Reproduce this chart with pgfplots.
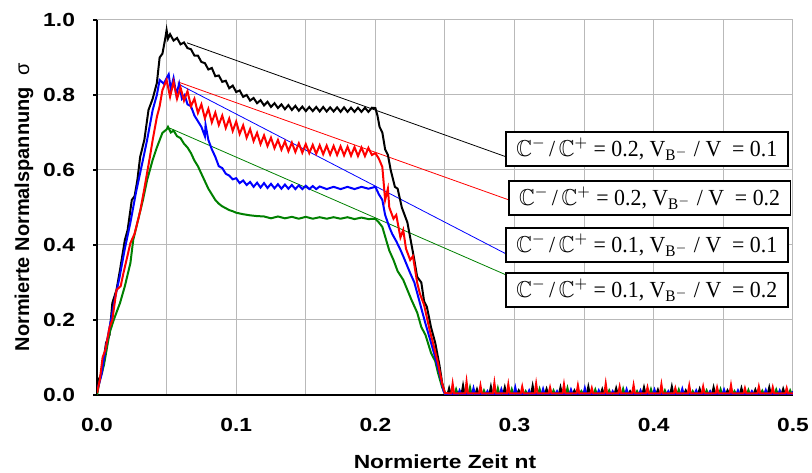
\documentclass[border=0pt]{standalone}
\usepackage{pgfplots}
\pgfplotsset{compat=1.18}
\usepackage{amssymb}
\usepackage{fontspec}
\setmainfont{Liberation Serif}
\setsansfont{Liberation Sans}
\definecolor{dgreen}{RGB}{0,128,0}
\definecolor{gridgray}{RGB}{185,185,185}
\newcommand{\lbl}[2]{$\mathbb{C}^{-}$\,/\,$\mathbb{C}^{+}$ = #1, V$_{\mathrm{B}^{-}}$ / V \ = #2}
\begin{document}
\begin{tikzpicture}
\begin{axis}[
  scale only axis, width=348pt, height=187.5pt,
  xmin=0, xmax=0.5, ymin=0, ymax=1,
  xtick={0,0.1,0.2,0.3,0.4,0.5},
  minor xtick={0.05,0.15,0.25,0.35,0.45},
  ytick={0,0.2,0.4,0.6,0.8,1.0},
  grid=both,
  major grid style={gridgray, line width=0.5pt},
  minor grid style={gridgray, line width=0.5pt},
  axis lines*=left,
  axis line style={black, line width=0.8pt},
  tick align=outside, major tick length=2pt,
  xtick style={draw=none}, minor tick length=0pt,
  ytick style={black, line width=0.6pt},
  /pgf/number format/assume math mode=true,
  /pgf/number format/fixed, /pgf/number format/fixed zerofill, /pgf/number format/precision=1,
  tick label style={font=\sffamily\bfseries\fontsize{9.5}{11}\selectfont, xscale=1.2},
  xticklabel style={yshift=-6pt},
  yticklabel style={xshift=-4pt},
  xlabel={Normierte Zeit nt},
  ylabel={Normierte Normalspannung~~{\mdseries σ}},
  xlabel style={font=\sffamily\bfseries\fontsize{9.5}{11}\selectfont, xscale=1.2, at={(axis description cs:0.5,-0.179)}, anchor=center},
  ylabel style={font=\sffamily\bfseries\fontsize{10}{12}\selectfont, at={(axis description cs:-0.105,0.5)}, anchor=center},
  clip=true,
]
\coordinate (bl) at (axis cs:-0.0697,-0.208);
\coordinate (tr) at (axis cs:0.5137,1.0533);
% leader lines
\addplot[black, line width=0.4pt] coordinates {(0.0647,0.939)(0.294,0.635)};
\addplot[red, line width=0.4pt] coordinates {(0.058,0.835)(0.296,0.52)};
\addplot[blue, line width=0.4pt] coordinates {(0.058,0.83)(0.294,0.376)};
\addplot[dgreen, line width=0.4pt] coordinates {(0.052,0.712)(0.294,0.32)};
% black
\addplot[black, line width=1pt] coordinates {
(0,0)(0.001,0.04)(0.0036,0.059)(0.005,0.10)(0.0065,0.139)(0.009,0.16)(0.011,0.245)(0.014,0.28)(0.0165,0.333)(0.02,0.413)(0.022,0.44)(0.025,0.52)(0.027,0.53)(0.029,0.573)(0.031,0.635)(0.034,0.68)(0.037,0.76)(0.040,0.79)(0.043,0.832)(0.045,0.90)(0.047,0.91)(0.049,0.95)(0.05,0.973)
(0.051,0.950)(0.0525,0.962)(0.055,0.945)(0.0575,0.952)(0.06,0.935)(0.0625,0.940)(0.065,0.925)(0.0675,0.922)(0.07,0.905)(0.0725,0.905)(0.075,0.888)(0.0775,0.885)(0.08,0.868)(0.0825,0.872)(0.085,0.850)(0.0875,0.852)(0.09,0.835)(0.0925,0.838)(0.095,0.818)(0.0975,0.825)(0.1,0.808)(0.1025,0.812)(0.105,0.795)(0.1075,0.800)(0.11,0.785)(0.1125,0.792)(0.115,0.778)(0.1175,0.786)(0.12,0.772)(0.1225,0.782)(0.125,0.768)(0.1275,0.778)(0.13,0.765)(0.1325,0.775)(0.135,0.762)(0.1375,0.773)(0.14,0.760)(0.1425,0.771)(0.145,0.758)(0.1475,0.769)(0.15,0.757)(0.1525,0.768)(0.155,0.757)(0.1575,0.768)(0.16,0.756)(0.1625,0.768)(0.165,0.756)(0.1675,0.767)(0.17,0.756)(0.1725,0.767)(0.175,0.755)(0.1775,0.767)(0.18,0.755)(0.1825,0.766)(0.185,0.755)(0.1875,0.766)(0.19,0.755)(0.1925,0.766)(0.195,0.755)(0.1975,0.766)(0.2,0.765)
(0.2015,0.745)(0.203,0.715)(0.205,0.70)(0.207,0.655)(0.209,0.64)(0.211,0.60)(0.214,0.555)(0.216,0.55)(0.219,0.50)(0.223,0.46)(0.225,0.42)(0.228,0.36)(0.23,0.315)(0.233,0.30)(0.235,0.25)(0.237,0.235)(0.24,0.18)(0.243,0.139)(0.246,0.08)(0.248,0.032)(0.25,0.004)
(0.252,0.004)(0.253,0.018)(0.254,0.004)(0.262,0.004)(0.263,0.025)(0.264,0.004)(0.272,0.004)(0.273,0.015)(0.274,0.004)(0.282,0.004)(0.283,0.022)(0.284,0.004)(0.292,0.004)(0.293,0.020)(0.294,0.004)
(0.302,0.004)(0.303,0.012)(0.304,0.004)(0.312,0.004)(0.313,0.024)(0.314,0.004)(0.322,0.004)(0.323,0.016)(0.324,0.004)(0.332,0.004)(0.333,0.020)(0.334,0.004)(0.342,0.004)(0.343,0.012)(0.344,0.004)
(0.352,0.004)(0.353,0.022)(0.354,0.004)(0.362,0.004)(0.363,0.015)(0.364,0.004)(0.372,0.004)(0.373,0.018)(0.374,0.004)(0.382,0.004)(0.383,0.010)(0.384,0.004)(0.392,0.004)(0.393,0.020)(0.394,0.004)
(0.402,0.004)(0.403,0.014)(0.404,0.004)(0.412,0.004)(0.413,0.022)(0.414,0.004)(0.422,0.004)(0.423,0.012)(0.424,0.004)(0.432,0.004)(0.433,0.016)(0.434,0.004)(0.442,0.004)(0.443,0.020)(0.444,0.004)
(0.452,0.004)(0.453,0.012)(0.454,0.004)(0.462,0.004)(0.463,0.018)(0.464,0.004)(0.472,0.004)(0.473,0.014)(0.474,0.004)(0.482,0.004)(0.483,0.020)(0.484,0.004)(0.492,0.004)(0.493,0.016)(0.494,0.004)(0.5,0.004)
};
% green
\addplot[dgreen, line width=1pt] coordinates {
(0,0)(0.002,0.04)(0.005,0.08)(0.009,0.165)(0.012,0.2)(0.0165,0.245)(0.02,0.29)(0.024,0.352)(0.026,0.413)(0.029,0.459)(0.033,0.52)(0.036,0.573)(0.04,0.627)(0.043,0.66)(0.047,0.699)(0.05,0.708)(0.051,0.715)(0.053,0.70)(0.055,0.705)(0.0575,0.69)(0.06,0.685)(0.0625,0.67)(0.065,0.66)(0.0675,0.645)(0.07,0.625)(0.0725,0.61)(0.075,0.59)(0.0775,0.57)(0.08,0.55)(0.0825,0.535)(0.085,0.52)(0.0875,0.51)(0.09,0.503)(0.0925,0.498)(0.095,0.493)(0.0975,0.49)(0.1,0.486)(0.105,0.482)(0.11,0.479)(0.115,0.477)(0.12,0.476)(0.125,0.471)(0.13,0.476)(0.135,0.471)(0.14,0.475)(0.145,0.47)(0.15,0.475)(0.155,0.47)(0.16,0.474)(0.165,0.47)(0.17,0.474)(0.175,0.47)(0.18,0.474)(0.185,0.469)(0.19,0.473)(0.195,0.469)(0.2,0.47)
(0.2025,0.46)(0.205,0.448)(0.208,0.41)(0.21,0.385)(0.213,0.36)(0.216,0.33)(0.22,0.307)(0.223,0.28)(0.226,0.253)(0.23,0.22)(0.233,0.181)(0.236,0.16)(0.24,0.112)(0.243,0.09)(0.245,0.059)(0.248,0.02)(0.25,0.003)
(0.257,0.003)(0.258,0.015)(0.259,0.003)(0.267,0.003)(0.268,0.020)(0.269,0.003)(0.277,0.003)(0.278,0.012)(0.279,0.003)(0.287,0.003)(0.288,0.018)(0.289,0.003)(0.297,0.003)(0.298,0.015)(0.299,0.003)
(0.307,0.003)(0.308,0.010)(0.309,0.003)(0.317,0.003)(0.318,0.016)(0.319,0.003)(0.327,0.003)(0.328,0.012)(0.329,0.003)(0.337,0.003)(0.338,0.018)(0.339,0.003)(0.347,0.003)(0.348,0.010)(0.349,0.003)
(0.357,0.003)(0.358,0.014)(0.359,0.003)(0.367,0.003)(0.368,0.012)(0.369,0.003)(0.377,0.003)(0.378,0.016)(0.379,0.003)(0.387,0.003)(0.388,0.010)(0.389,0.003)(0.397,0.003)(0.398,0.015)(0.399,0.003)
(0.407,0.003)(0.408,0.012)(0.409,0.003)(0.417,0.003)(0.418,0.014)(0.419,0.003)(0.427,0.003)(0.428,0.010)(0.429,0.003)(0.437,0.003)(0.438,0.012)(0.439,0.003)(0.447,0.003)(0.448,0.015)(0.449,0.003)
(0.457,0.003)(0.458,0.010)(0.459,0.003)(0.467,0.003)(0.468,0.013)(0.469,0.003)(0.477,0.003)(0.478,0.011)(0.479,0.003)(0.487,0.003)(0.488,0.014)(0.489,0.003)(0.497,0.003)(0.498,0.012)(0.499,0.003)(0.5,0.003)
};
% blue
\addplot[blue, line width=1pt] coordinates {
(0,0.01)(0.003,0.05)(0.006,0.12)(0.01,0.2)(0.013,0.26)(0.016,0.31)(0.02,0.39)(0.024,0.46)(0.028,0.54)(0.033,0.627)(0.036,0.68)(0.04,0.76)(0.043,0.80)(0.045,0.84)(0.048,0.83)(0.05,0.845)(0.0515,0.855)(0.053,0.815)(0.055,0.845)(0.057,0.80)(0.059,0.83)(0.061,0.79)(0.063,0.80)(0.065,0.775)(0.0675,0.77)(0.07,0.745)(0.0725,0.73)(0.075,0.715)(0.0775,0.69)(0.078,0.72)(0.08,0.68)(0.0825,0.655)(0.085,0.635)(0.0875,0.61)(0.09,0.605)(0.0925,0.59)(0.095,0.585)(0.0975,0.575)(0.1,0.578)(0.1025,0.565)(0.105,0.572)(0.1075,0.56)(0.11,0.568)(0.1125,0.555)(0.115,0.566)(0.1175,0.553)(0.12,0.565)(0.1225,0.552)(0.125,0.563)(0.1275,0.551)(0.13,0.562)(0.1325,0.55)(0.135,0.561)(0.1375,0.55)(0.14,0.56)(0.1425,0.549)(0.145,0.559)(0.1475,0.549)(0.15,0.558)(0.1525,0.549)(0.155,0.557)(0.1575,0.549)(0.16,0.556)(0.165,0.549)(0.17,0.555)(0.175,0.549)(0.18,0.555)(0.185,0.549)(0.19,0.555)(0.195,0.55)(0.2,0.555)
(0.2025,0.535)(0.205,0.52)(0.207,0.48)(0.21,0.448)(0.212,0.43)(0.215,0.41)(0.218,0.387)(0.22,0.37)(0.225,0.325)(0.228,0.30)(0.232,0.245)(0.236,0.19)(0.24,0.139)(0.243,0.10)(0.246,0.059)(0.249,0.01)(0.25,0.003)
(0.2595,0.003)(0.2605,0.012)(0.2615,0.003)(0.2695,0.003)(0.2705,0.018)(0.2715,0.003)(0.2795,0.003)(0.2805,0.010)(0.2815,0.003)(0.2895,0.003)(0.2905,0.015)(0.2915,0.003)(0.2995,0.003)(0.3005,0.020)(0.3015,0.003)
(0.3095,0.003)(0.3105,0.012)(0.3115,0.003)(0.3195,0.003)(0.3205,0.016)(0.3215,0.003)(0.3295,0.003)(0.3305,0.010)(0.3315,0.003)(0.3395,0.003)(0.3405,0.014)(0.3415,0.003)(0.3495,0.003)(0.3505,0.018)(0.3515,0.003)
(0.3595,0.003)(0.3605,0.012)(0.3615,0.003)(0.3695,0.003)(0.3705,0.010)(0.3715,0.003)(0.3795,0.003)(0.3805,0.015)(0.3815,0.003)(0.3895,0.003)(0.3905,0.012)(0.3915,0.003)(0.3995,0.003)(0.4005,0.014)(0.4015,0.003)
(0.4095,0.003)(0.4105,0.010)(0.4115,0.003)(0.4195,0.003)(0.4205,0.016)(0.4215,0.003)(0.4295,0.003)(0.4305,0.012)(0.4315,0.003)(0.4395,0.003)(0.4405,0.010)(0.4415,0.003)(0.4495,0.003)(0.4505,0.014)(0.4515,0.003)
(0.4595,0.003)(0.4605,0.012)(0.4615,0.003)(0.4695,0.003)(0.4705,0.010)(0.4715,0.003)(0.4795,0.003)(0.4805,0.013)(0.4815,0.003)(0.4895,0.003)(0.4905,0.012)(0.4915,0.003)(0.4995,0.003)(0.5,0.01)
};
% red
\addplot[red, line width=1pt] coordinates {
(0,0.005)(0.002,0.04)(0.004,0.1)(0.006,0.12)(0.009,0.18)(0.011,0.2)(0.014,0.28)(0.017,0.29)(0.019,0.325)(0.024,0.405)(0.027,0.43)(0.031,0.49)(0.034,0.55)(0.038,0.635)(0.04,0.68)(0.043,0.741)(0.045,0.77)(0.047,0.813)(0.05,0.84)
(0.0525,0.795)(0.055,0.835)(0.0575,0.79)(0.06,0.82)(0.0625,0.785)(0.065,0.81)(0.0675,0.77)(0.07,0.79)(0.0725,0.752)(0.075,0.775)(0.0775,0.738)(0.08,0.763)(0.0825,0.727)(0.085,0.753)(0.0875,0.72)(0.09,0.745)(0.0925,0.712)(0.095,0.737)(0.0975,0.704)(0.1,0.729)(0.1025,0.696)(0.105,0.719)(0.1075,0.686)(0.11,0.709)(0.1125,0.677)(0.115,0.699)(0.1175,0.669)(0.12,0.692)(0.1225,0.664)(0.125,0.686)(0.1275,0.658)(0.13,0.68)(0.1325,0.654)(0.135,0.676)(0.1375,0.65)(0.14,0.673)(0.1425,0.648)(0.145,0.671)(0.1475,0.646)(0.15,0.669)(0.1525,0.645)(0.155,0.667)(0.1575,0.643)(0.16,0.666)(0.1625,0.642)(0.165,0.665)(0.1675,0.641)(0.17,0.664)(0.1725,0.64)(0.175,0.663)(0.1775,0.639)(0.18,0.662)(0.1825,0.638)(0.185,0.661)(0.1875,0.637)(0.19,0.66)(0.1925,0.637)(0.195,0.659)(0.1975,0.64)(0.2,0.645)
(0.2025,0.63)(0.205,0.608)(0.207,0.52)(0.209,0.55)(0.21,0.50)(0.213,0.47)(0.215,0.48)(0.218,0.42)(0.22,0.44)(0.222,0.39)(0.225,0.36)(0.227,0.37)(0.23,0.30)(0.232,0.27)(0.235,0.24)(0.239,0.173)(0.242,0.13)(0.245,0.085)(0.248,0.03)(0.25,0.005)
(0.2545,0.004)(0.2555,0.030)(0.2565,0.004)(0.2645,0.004)(0.2655,0.035)(0.2665,0.004)(0.2745,0.004)(0.2755,0.025)(0.2765,0.004)(0.2845,0.004)(0.2855,0.032)(0.2865,0.004)(0.2945,0.004)(0.2955,0.028)(0.2965,0.004)
(0.3045,0.004)(0.3055,0.022)(0.3065,0.004)(0.3145,0.004)(0.3155,0.030)(0.3165,0.004)(0.3245,0.004)(0.3255,0.020)(0.3265,0.004)(0.3345,0.004)(0.3355,0.028)(0.3365,0.004)(0.3445,0.004)(0.3455,0.025)(0.3465,0.004)
(0.3545,0.004)(0.3555,0.018)(0.3565,0.004)(0.3645,0.004)(0.3655,0.030)(0.3665,0.004)(0.3745,0.004)(0.3755,0.022)(0.3765,0.004)(0.3845,0.004)(0.3855,0.026)(0.3865,0.004)(0.3945,0.004)(0.3955,0.020)(0.3965,0.004)
(0.4045,0.004)(0.4055,0.028)(0.4065,0.004)(0.4145,0.004)(0.4155,0.018)(0.4165,0.004)(0.4245,0.004)(0.4255,0.025)(0.4265,0.004)(0.4345,0.004)(0.4355,0.022)(0.4365,0.004)(0.4445,0.004)(0.4455,0.020)(0.4465,0.004)
(0.4545,0.004)(0.4555,0.026)(0.4565,0.004)(0.4645,0.004)(0.4655,0.018)(0.4665,0.004)(0.4745,0.004)(0.4755,0.022)(0.4765,0.004)(0.4845,0.004)(0.4855,0.020)(0.4865,0.004)(0.4945,0.004)(0.4955,0.018)(0.4965,0.004)(0.5,0.004)
};
% label boxes
\tikzset{lbox/.style={draw=black, line width=0.9pt, fill=white, xscale=0.95, font=\fontsize{11.5}{13}\selectfont, minimum width=148.4pt, minimum height=17pt, inner sep=0pt}}
\node[lbox] at (axis cs:0.395,0.656) {\lbl{0.2}{0.1}};
\node[lbox] at (axis cs:0.397,0.525) {\lbl{0.2}{0.2}};
\node[lbox] at (axis cs:0.395,0.400) {\lbl{0.1}{0.1}};
\node[lbox] at (axis cs:0.395,0.280) {\lbl{0.1}{0.2}};
\end{axis}
\pgfresetboundingbox
\useasboundingbox (bl) rectangle (tr);
\end{tikzpicture}
\end{document}
